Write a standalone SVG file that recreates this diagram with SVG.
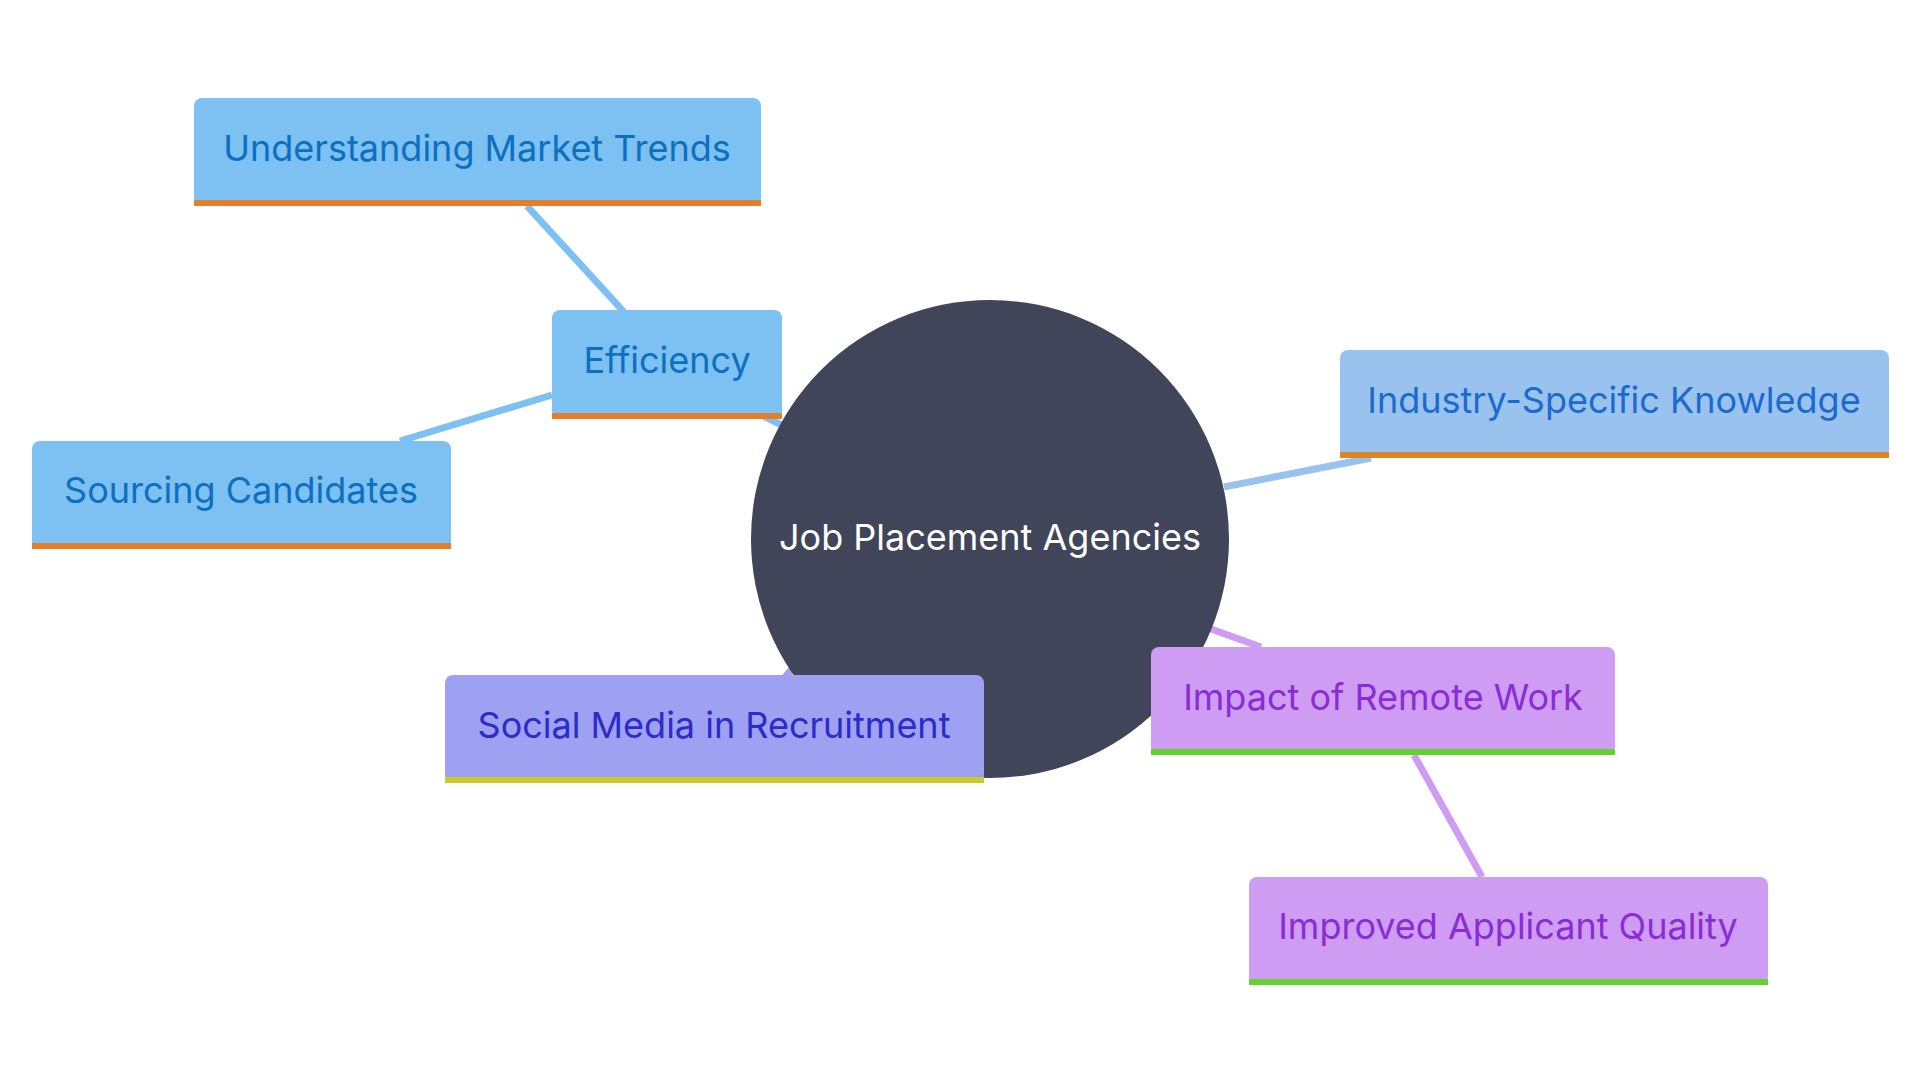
<svg xmlns="http://www.w3.org/2000/svg" width="1920" height="1080" viewBox="0 0 1920 1080">
<style>
text{font-family:Inter,"Noto Sans",sans-serif;font-size:36px;text-anchor:middle;dominant-baseline:central}
.e{stroke-width:7;fill:none}
</style>
<rect width="1920" height="1080" fill="#fff"/>
<g id="connectors">
<line class="e" x1="624" y1="312" x2="527" y2="206" stroke="#7DC0F2"/>
<line class="e" x1="552" y1="395" x2="400" y2="441" stroke="#7DC0F2"/>
<line class="e" x1="800" y1="434" x2="759" y2="414" stroke="#7DC0F2"/>
<line class="e" x1="1224" y1="487" x2="1371" y2="458" stroke="#99C2EF"/>
<line class="e" x1="1200" y1="625" x2="1261" y2="647" stroke="#CE9CF2"/>
<line class="e" x1="1414" y1="755" x2="1482" y2="877" stroke="#CE9CF2"/>
<line class="e" x1="800" y1="660" x2="785" y2="677" stroke="#9EA0F2"/>
</g>
<g id="center"><circle cx="990" cy="539" r="239" fill="#414559"/><text x="990" y="537" fill="#fff">Job Placement Agencies</text></g>
<g id="n1"><rect x="194" y="98" width="567" height="108" rx="8" fill="#7DC0F2"/><rect x="194" y="200" width="567" height="6" fill="#E57E2A"/><text x="477" y="148" fill="#0B6FC2">Understanding Market Trends</text></g>
<g id="n2"><rect x="552" y="310" width="230" height="109" rx="8" fill="#7DC0F2"/><rect x="552" y="413" width="230" height="6" fill="#E57E2A"/><text x="667" y="360" fill="#0B6FC2">Efficiency</text></g>
<g id="n3"><rect x="32" y="441" width="419" height="108" rx="8" fill="#7DC0F2"/><rect x="32" y="543" width="419" height="6" fill="#E57E2A"/><text x="241" y="490" fill="#0B6FC2">Sourcing Candidates</text></g>
<g id="n4"><rect x="1340" y="350" width="549" height="108" rx="8" fill="#99C2EF"/><rect x="1340" y="452" width="549" height="6" fill="#DB8525"/><text x="1614" y="400" fill="#1A6ACF">Industry-Specific Knowledge</text></g>
<g id="n5"><rect x="1151" y="647" width="464" height="108" rx="8" fill="#CE9CF2"/><rect x="1151" y="749" width="464" height="6" fill="#63D12E"/><text x="1383" y="697" fill="#8A2BD8">Impact of Remote Work</text></g>
<g id="n6"><rect x="1249" y="877" width="519" height="108" rx="8" fill="#CE9CF2"/><rect x="1249" y="979" width="519" height="6" fill="#63D12E"/><text x="1508" y="926" fill="#8A2BD8">Improved Applicant Quality</text></g>
<g id="n7"><rect x="445" y="675" width="539" height="108" rx="8" fill="#9EA0F2"/><rect x="445" y="777" width="539" height="6" fill="#CDC92A"/><text x="714" y="725" fill="#2B2BCB">Social Media in Recruitment</text></g>
</svg>
